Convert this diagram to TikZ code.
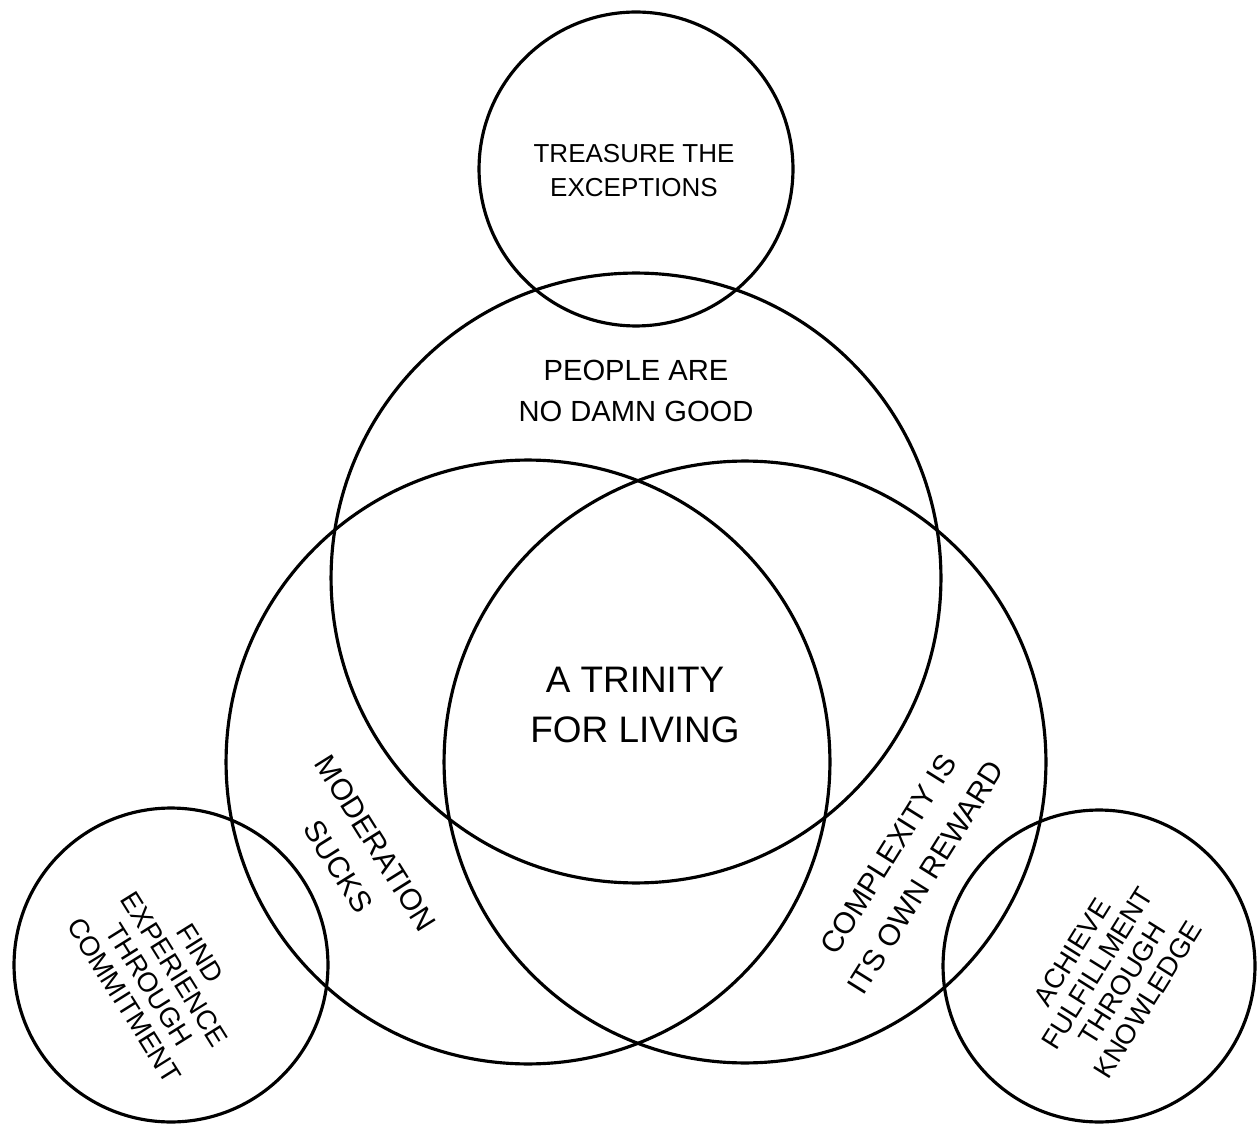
\documentclass[tikz,border=0pt]{standalone}
\usepackage{fontspec}
\setmainfont{Liberation Sans}
\tikzset{
  trinity ring/.style={
    circle, draw=black, line width=1.8pt,
    inner sep=0pt, minimum size=#1
  },
  trinity label/.style={
    align=center, inner sep=0pt, text=black
  },
  core text/.style={trinity label, font=\fontsize{21}{28.5}\selectfont},
  ring text/.style={trinity label, font=\fontsize{16.6}{23.3}\selectfont},
  side text/.style={trinity label, font=\fontsize{17}{25}\selectfont},
  outer text/.style={trinity label, font=\fontsize{14.8}{19.4}\selectfont},
  corner text/.style={trinity label, font=\fontsize{15.6}{17}\selectfont}
}
\begin{document}
\begin{tikzpicture}[x=0.02cm, y=-0.02cm]
    \useasboundingbox (0,0) rectangle (1257,1124);
    \node[trinity ring=6.28cm] (treasure) at (636,169) {};
    \node[trinity ring=12.2cm] (people) at (636,578) {};
    \node[trinity ring=12.08cm] (moderation) at (528,762) {};
    \node[trinity ring=12.04cm] (complexity) at (745,762) {};
    \node[trinity ring=6.28cm] (find) at (171,965) {};
    \node[trinity ring=6.24cm] (achieve) at (1099,966) {};
    \node[outer text] (treasure text) at (634,171) {TREASURE THE\\EXCEPTIONS};
    \node[ring text] (people text) at (636,391) {PEOPLE ARE\\NO DAMN GOOD};
    \node[core text] (trinity text) at (635,705) {A TRINITY\\FOR LIVING};
    \node[side text, rotate=-58] (moderation text) at (357,855) {MODERATION\\SUCKS};
    \node[side text, rotate=58] (complexity text) at (907,866) {COMPLEXITY IS\\ITS OWN REWARD};
    \node[corner text, rotate=-58] (find text) at (162,977) {FIND\\EXPERIENCE\\THROUGH\\COMMITMENT};
    \node[corner text, rotate=58] (achieve text) at (1110,976) {ACHIEVE\\FULFILLMENT\\THROUGH\\KNOWLEDGE};
  \end{tikzpicture}
\end{document}
